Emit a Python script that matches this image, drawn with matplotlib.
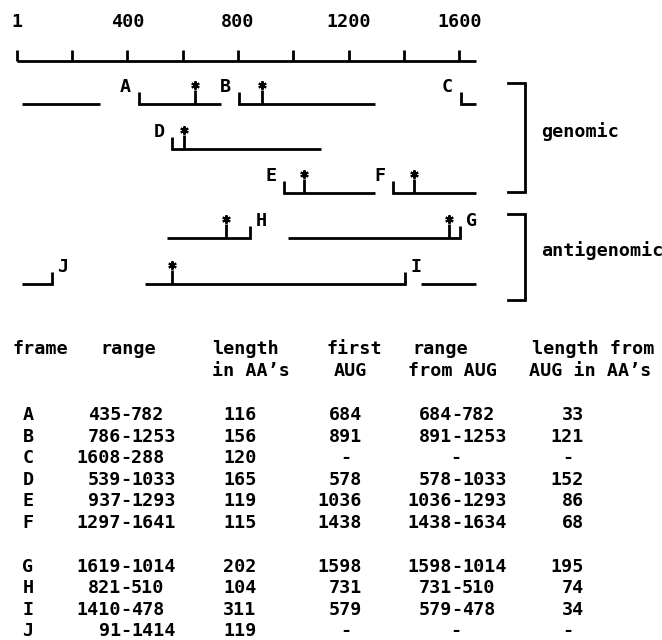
"""Open reading frame map of a circular genome with its frame table."""

import matplotlib
matplotlib.use("Agg")  # noqa: E402

import matplotlib.pyplot as plt
from matplotlib.transforms import Affine2D

# ── Data ──────────────────────────────────────────────────────────────────────

RULER_TICKS = [1, 200, 400, 600, 800, 1000, 1200, 1400, 1600]
RULER_LABELS = [1, 400, 800, 1200, 1600]
GENOME_END = 1660      # right end of the drawn ruler (nt)
WRAP_START = 20        # where wrapped frames re-enter on the left (nt)

# Frame positions as drawn on the map (nt): start = hooked end, stop = open end
MAP_FRAMES = ["A", "B", "C", "D", "E", "F", "G", "H", "I", "J"]
MAP_STRAND = ["genomic"] * 6 + ["antigenomic"] * 4
MAP_ROW = [0, 0, 0, 1, 2, 2, 3, 3, 4, 4]
MAP_START = [441, 802, 1605, 562, 965, 1359, 1604, 843, 1403, 126]
MAP_STOP = [738, 1294, 300, 1100, 1294, 1660, 982, 542, 464, 1462]
MAP_AUG = [643, 886, None, 604, 1039, 1437, 1562, 755, 562, None]

# Table
TABLE_FRAME = ["A", "B", "C", "D", "E", "F", "G", "H", "I", "J"]
RANGE_START = [435, 786, 1608, 539, 937, 1297, 1619, 821, 1410, 91]
RANGE_END = [782, 1253, 288, 1033, 1293, 1641, 1014, 510, 478, 1414]
LENGTH_AA = [116, 156, 120, 165, 119, 115, 202, 104, 311, 119]
FIRST_AUG = [684, 891, None, 578, 1036, 1438, 1598, 731, 579, None]
AUG_RANGE_END = [782, 1253, None, 1033, 1293, 1634, 1014, 510, 478, None]
AUG_LENGTH_AA = [33, 121, None, 152, 86, 68, 195, 74, 34, None]

# ── Layout (pixels from top-left) ─────────────────────────────────────────────

W, H = 662, 640
X0, PX_PER_NT = 17, 0.2766
RULER_Y, TICK_TOP, LABEL_Y = 61, 50, 22
ROW_Y = [104, 149, 193, 238, 284]
HOOK_H, STEM_H, STAR_H = 12, 14, 19
LW = 2.0

plt.rcParams["font.family"] = ["DejaVu Sans Mono"]
plt.rcParams["font.weight"] = "bold"
FS = 13.2

fig = plt.figure(figsize=(W / 100, H / 100), dpi=100)
ax = fig.add_axes([0, 0, 1, 1])
ax.set_axis_off()
ax.set_xlim(1 - X0 / PX_PER_NT, 1 + (W - X0) / PX_PER_NT)
ax.set_ylim(H, 0)
px = Affine2D().scale(1 / W, -1 / H).translate(0, 1) + fig.transFigure

# ── Ruler ─────────────────────────────────────────────────────────────────────

ax.plot([RULER_TICKS[0], GENOME_END], [RULER_Y, RULER_Y], color="black", lw=LW,
        solid_capstyle="butt")
ax.vlines(RULER_TICKS, TICK_TOP, RULER_Y, color="black", lw=LW)
for t in RULER_LABELS:
    ax.text(t, LABEL_Y, str(t), ha="center", va="center", fontsize=FS)

# ── Frames ────────────────────────────────────────────────────────────────────

for name, strand, row, start, stop, aug in zip(MAP_FRAMES, MAP_STRAND, MAP_ROW,
                                               MAP_START, MAP_STOP, MAP_AUG):
    y = ROW_Y[row]
    kw = dict(color="black", lw=LW, solid_joinstyle="miter", solid_capstyle="butt")
    if strand == "genomic":
        if stop > start:
            ax.plot([start, start, stop], [y - HOOK_H, y, y], **kw)
        else:  # wraps past the end of the genome
            ax.plot([start, start, GENOME_END], [y - HOOK_H, y, y], **kw)
            ax.plot([WRAP_START, stop], [y, y], **kw)
        dx = -13
    else:
        if stop < start:
            ax.plot([start, start, stop], [y - HOOK_H, y, y], **kw)
        else:
            ax.plot([start, start, WRAP_START], [y - HOOK_H, y, y], **kw)
            ax.plot([GENOME_END, stop], [y, y], **kw)
        dx = 11
    if aug is not None:
        ax.plot([aug, aug], [y, y - STEM_H], **kw)
        ax.plot(aug, y - STAR_H, marker=(6, 2, 0), ms=6, mew=1.5, color="black")
    ax.annotate(name, (start, y - 17), xytext=(dx, 0), textcoords="offset pixels",
                ha="center", va="center", fontsize=FS)

# ── Strand brackets ───────────────────────────────────────────────────────────

for label, top, bottom in [("genomic", 83, 192), ("antigenomic", 214, 300)]:
    ax.plot([508, 525, 525, 508], [top, top, bottom, bottom], color="black", lw=LW,
            transform=px, clip_on=False, solid_joinstyle="miter")
    fig.text(541, (top + bottom) / 2 - 6, label, transform=px, ha="left", va="center",
             fontsize=FS)

# ── Table ─────────────────────────────────────────────────────────────────────

HEAD1, HEAD2 = 349, 371
fig.text(13, HEAD1, "frame", transform=px, va="center", fontsize=FS)
fig.text(128, HEAD1, "range", transform=px, ha="center", va="center", fontsize=FS)
fig.text(212, HEAD1, "length", transform=px, va="center", fontsize=FS)
fig.text(212, HEAD2, "in AA’s", transform=px, va="center", fontsize=FS)
fig.text(354, HEAD1, "first", transform=px, ha="center", va="center", fontsize=FS)
fig.text(350, HEAD2, "AUG", transform=px, ha="center", va="center", fontsize=FS)
fig.text(412, HEAD1, "range", transform=px, va="center", fontsize=FS)
fig.text(408, HEAD2, "from AUG", transform=px, va="center", fontsize=FS)
fig.text(532, HEAD1, "length from", transform=px, va="center", fontsize=FS)
fig.text(529, HEAD2, "AUG in AA’s", transform=px, va="center", fontsize=FS)


def dash_range(x, y, a, b):
    fig.text(x - 5, y, str(a), transform=px, ha="right", va="center", fontsize=FS)
    fig.text(x, y, "-", transform=px, ha="center", va="center", fontsize=FS)
    fig.text(x + 5, y, str(b), transform=px, ha="left", va="center", fontsize=FS)


def cell(x, y, s, ha):
    fig.text(x, y, s, transform=px, ha=ha, va="center", fontsize=FS)


for i, fr in enumerate(TABLE_FRAME):
    y = 415 + i * 21.6 + (22 if i >= 6 else 0)
    cell(28, y, fr, "center")
    dash_range(126, y, RANGE_START[i], RANGE_END[i])
    cell(223, y, str(LENGTH_AA[i]), "left")
    if FIRST_AUG[i] is None:
        cell(346, y, "-", "center")
        cell(456, y, "-", "center")
        cell(568, y, "-", "center")
    else:
        cell(362, y, str(FIRST_AUG[i]), "right")
        dash_range(457, y, FIRST_AUG[i], AUG_RANGE_END[i])
        cell(584, y, str(AUG_LENGTH_AA[i]), "right")

fig.savefig("out.png", dpi=100, facecolor="white")
